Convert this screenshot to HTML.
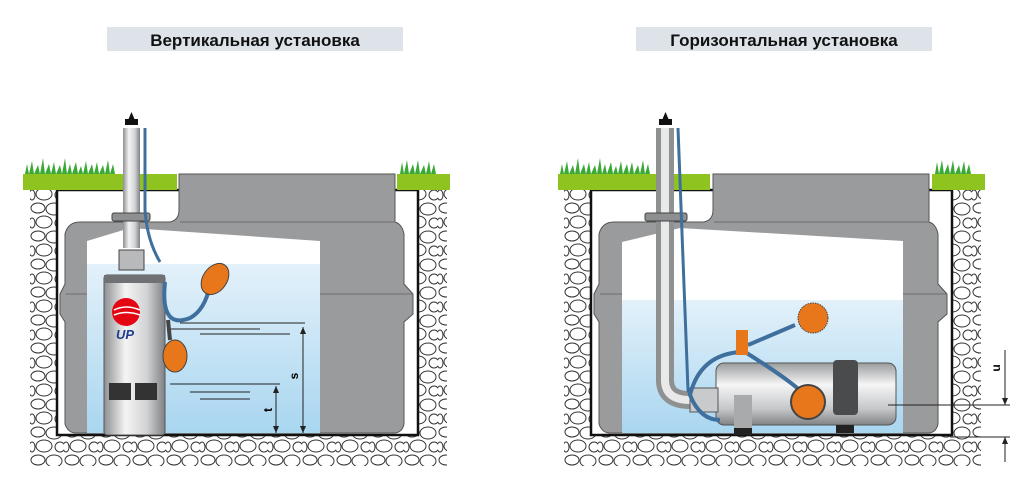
<!DOCTYPE html>
<html><head><meta charset="utf-8"><style>
html,body{margin:0;padding:0;background:#fff;}
svg{display:block;}
text{font-family:"Liberation Sans",sans-serif;}
</style></head><body>
<svg width="1025" height="479" viewBox="0 0 1025 479" xmlns="http://www.w3.org/2000/svg">
<defs>
<pattern id="grav" width="34" height="28" patternUnits="userSpaceOnUse">
<rect width="34" height="28" fill="#fff"/>
<g fill="#fff" stroke="#333" stroke-width="1">
<ellipse cx="8" cy="6" rx="7" ry="5"/>
<ellipse cx="24" cy="7" rx="8" ry="6"/>
<ellipse cx="14" cy="20" rx="8" ry="6"/>
<ellipse cx="30" cy="21" rx="5" ry="5"/>
<ellipse cx="2" cy="21" rx="3" ry="5"/>
</g>
</pattern>
<linearGradient id="water" x1="0" y1="0" x2="0" y2="1">
<stop offset="0" stop-color="#e3f1fa"/><stop offset="1" stop-color="#a9d6f0"/>
</linearGradient>
<linearGradient id="steel" x1="0" y1="0" x2="1" y2="0">
<stop offset="0" stop-color="#8d8f92"/><stop offset="0.35" stop-color="#f4f4f4"/><stop offset="0.7" stop-color="#d2d3d5"/><stop offset="1" stop-color="#7f8184"/>
</linearGradient>
<linearGradient id="steelH" x1="0" y1="0" x2="0" y2="1">
<stop offset="0" stop-color="#9a9c9e"/><stop offset="0.35" stop-color="#f6f6f6"/><stop offset="0.75" stop-color="#c4c5c7"/><stop offset="1" stop-color="#808285"/>
</linearGradient>
<g id="tank">
<rect x="0" y="16" width="417" height="276" fill="url(#grav)"/>
<rect x="27" y="16" width="361" height="245" fill="#fff" stroke="#111" stroke-width="2.5"/>
<path d="M149 0 H365 V48 Q372 50 374 60 V110 L383 120 V140 L374 148 V250 Q372 259 364 259 H46 Q38 259 35 250 V148 L30 140 V120 L35 110 V60 Q38 48 50 48 H140 Q149 46 149 36 Z" fill="#9a9b9d" stroke="#555" stroke-width="1"/>
<line x1="36" y1="120" x2="383" y2="120" stroke="#6d6e70"/>
<line x1="150" y1="48" x2="365" y2="48" stroke="#6d6e70"/>
</g>
</defs>

<rect x="107" y="27" width="296" height="24" fill="#dde3e9"/>
<text x="255" y="46" text-anchor="middle" font-size="17" font-weight="bold" fill="#111">Вертикальная установка</text>
<rect x="636" y="27" width="296" height="24" fill="#dde3e9"/>
<text x="784" y="46" text-anchor="middle" font-size="17" font-weight="bold" fill="#111">Горизонтальная установка</text>

<!-- LEFT -->
<g transform="translate(30,174)"><use href="#tank"/></g>
<rect x="23" y="174" width="154" height="16" fill="#8fc31f"/>
<rect x="397" y="174" width="53" height="16" fill="#8fc31f"/>
<path d="M25 174 l2 -10 l2 10 l3 -13 l2 13 l4 -9 l2 9 l3 -16 l2 16 l4 -10 l2 10 l3 -12 l2 12 l4 -9 l2 9 l3 -16 l2 16 l3 -10 l2 10 l4 -12 l2 12 l3 -8 l2 8 l3 -13 l2 13 l4 -10 l2 10 l3 -12 l2 12 l4 -9 l2 9 l3 -14 l2 14 l3 -10 l2 10 Z" fill="#3aa935"/>
<path d="M400 174 l2 -12 l2 12 l3 -14 l2 14 l4 -10 l2 10 l3 -14 l2 14 l4 -9 l2 9 l3 -13 l2 13 l3 -10 l2 10 Z" fill="#3aa935"/>
<path d="M87 241 L130 228 L320 241 V433 H87 Z" fill="#fff"/>
<rect x="87" y="264" width="233" height="169" fill="url(#water)"/>
<g stroke="#222" stroke-width="1"><line x1="180" y1="323" x2="305" y2="323"/><line x1="170" y1="329" x2="260" y2="329"/><line x1="200" y1="334" x2="290" y2="334"/><line x1="170" y1="384" x2="280" y2="384"/><line x1="190" y1="392" x2="250" y2="392"/><line x1="200" y1="399" x2="250" y2="399"/></g>
<rect x="123" y="128" width="17" height="120" fill="url(#steel)"/>
<path d="M125 125 h13 v-6 h-3.5 l-3 -7 l-3 7 h-3.5 z" fill="#111"/>
<rect x="112" y="213" width="38" height="8" rx="2" fill="#8e8f91" stroke="#444"/>
<path d="M145 128 V210 Q147 240 160 262" stroke="#3f6f9c" stroke-width="3" fill="none"/>
<rect x="119" y="250" width="25" height="20" fill="#b8b9bb" stroke="#444"/>
<rect x="104" y="275" width="61" height="160" rx="3" fill="url(#steel)" stroke="#555"/>
<rect x="104" y="275" width="61" height="8" fill="#6f7174"/>
<circle cx="126" cy="312" r="14" fill="#e30613"/>
<path d="M114 310 q12 -6 26 0 M114 315 q12 -5 26 0" stroke="#fff" stroke-width="1.5" fill="none"/>
<text x="116" y="339" font-size="13" font-weight="bold" font-style="italic" fill="#1d3e8f">UP</text>
<rect x="109" y="383" width="22" height="17" fill="#333"/><rect x="135" y="383" width="22" height="17" fill="#333"/>
<path d="M165 282 Q160 330 190 318 Q205 310 210 285" stroke="#3f6f9c" stroke-width="4" fill="none"/>
<ellipse cx="215" cy="279" rx="12" ry="17" transform="rotate(35 215 279)" fill="#e8761b" stroke="#444"/>
<ellipse cx="175" cy="356" rx="12" ry="16" fill="#e8761b" stroke="#444"/>
<line x1="168" y1="320" x2="170" y2="340" stroke="#444" stroke-width="4"/>
<g stroke="#222" stroke-width="1"><line x1="303" y1="327" x2="303" y2="433"/><line x1="276" y1="386" x2="276" y2="433"/></g>
<path d="M300 334 l3 -7 l3 7 z M300 426 l3 7 l3 -7 z M273 393 l3 -7 l3 7 z M273 426 l3 7 l3 -7 z" fill="#222"/>
<text x="294" y="376" font-size="12" font-weight="bold" transform="rotate(-90 294 376)" text-anchor="middle" dy="4">s</text>
<text x="268" y="410" font-size="12" font-weight="bold" transform="rotate(-90 268 410)" text-anchor="middle" dy="4">t</text>

<!-- RIGHT -->
<g transform="translate(564,174)"><use href="#tank"/></g>
<rect x="558" y="174" width="152" height="16" fill="#8fc31f"/>
<rect x="932" y="174" width="53" height="16" fill="#8fc31f"/>
<path d="M560 174 l2 -10 l2 10 l3 -13 l2 13 l4 -9 l2 9 l3 -16 l2 16 l4 -10 l2 10 l3 -12 l2 12 l4 -9 l2 9 l3 -16 l2 16 l3 -10 l2 10 l4 -12 l2 12 l3 -8 l2 8 l3 -13 l2 13 l4 -10 l2 10 l3 -12 l2 12 l4 -9 l2 9 l3 -14 l2 14 l3 -10 l2 10 Z" fill="#3aa935"/>
<path d="M935 174 l2 -12 l2 12 l3 -14 l2 14 l4 -10 l2 10 l3 -14 l2 14 l4 -9 l2 9 l3 -13 l2 13 l3 -10 l2 10 Z" fill="#3aa935"/>
<path d="M622 242 L680 228 L903 241 V433 H622 Z" fill="#fff"/>
<rect x="622" y="300" width="281" height="133" fill="url(#water)"/>
<path d="M665 128 V380 Q665 400 690 400" stroke="#8e9092" stroke-width="18" fill="none"/>
<path d="M665 128 V380 Q665 400 690 400" stroke="#e9e9e9" stroke-width="8" fill="none"/>
<path d="M659 125 h13 v-6 h-3.5 l-3 -7 l-3 7 h-3.5 z" fill="#111"/>
<rect x="645" y="213" width="42" height="8" rx="2" fill="#8e8f91" stroke="#444"/>
<path d="M678 128 L688 390 Q700 420 720 420" stroke="#3f6f9c" stroke-width="3" fill="none"/>
<rect x="716" y="363" width="180" height="62" rx="8" fill="url(#steelH)" stroke="#555"/>
<rect x="690" y="388" width="28" height="24" fill="#c9cacc" stroke="#555"/>
<rect x="833" y="360" width="25" height="55" rx="4" fill="#4a4b4d"/>
<rect x="734" y="395" width="18" height="35" fill="#a9aaac"/>
<rect x="734" y="428" width="18" height="7" fill="#222"/><rect x="836" y="425" width="18" height="8" fill="#222"/>
<path d="M740 352 Q700 355 690 395 Q700 420 720 420" stroke="#3f6f9c" stroke-width="4" fill="none"/>
<path d="M745 352 Q790 380 805 395" stroke="#3f6f9c" stroke-width="4" fill="none"/>
<path d="M748 345 L795 325" stroke="#3f6f9c" stroke-width="4" fill="none"/>
<rect x="736" y="330" width="12" height="25" fill="#e8761b"/>
<circle cx="813" cy="318" r="15" fill="#e8761b" stroke="#444" stroke-dasharray="1.5 1"/>
<circle cx="808" cy="402" r="17" fill="#e8761b" stroke="#444" stroke-width="2"/>
<g stroke="#222" stroke-width="1"><line x1="888" y1="405" x2="1010" y2="405"/><line x1="950" y1="437" x2="1010" y2="437"/><line x1="1005" y1="350" x2="1005" y2="405"/><line x1="1005" y1="437" x2="1005" y2="462"/></g>
<path d="M1002 398 l3 7 l3 -7 z M1002 444 l3 -7 l3 7 z" fill="#222"/>
<text x="996" y="368" font-size="12" font-weight="bold" transform="rotate(-90 996 368)" text-anchor="middle" dy="4">u</text>
</svg>
</body></html>
